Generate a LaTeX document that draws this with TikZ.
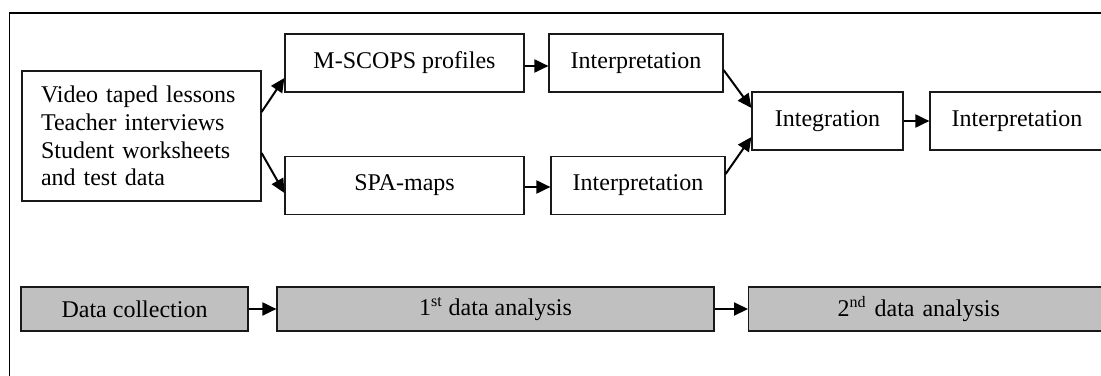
\documentclass[tikz,border=0pt]{standalone}
\usepackage{fontspec}
\setmainfont{Liberation Serif}
\usetikzlibrary{arrows.meta}
\definecolor{phasegray}{HTML}{C0C0C0}
\begin{document}
\begin{tikzpicture}[x=0.5pt, y=-0.5pt,
  every node/.style={font=\fontsize{12pt}{13.8pt}\selectfont, text=black},
  box/.style={draw=black!90, line width=0.6pt, inner sep=0pt, minimum height=29pt},
  phase/.style={box, fill=phasegray, minimum height=22pt},
  flow/.style={line width=1pt, -{Triangle[length=7pt, width=6.5pt]}}]

  % page area and outer frame (frame runs past the right and bottom edges)
  \useasboundingbox (0,0) rectangle (1101,375);
  \clip (0,0) rectangle (1101,375);
  \draw[line width=0.8pt] (9.5,12.7) rectangle (1130,400);

  % data sources
  \node[box, minimum width=119.5pt, minimum height=65pt, text width=100.5pt,
        inner xsep=9.5pt, align=left] (src) at (141.5,136)
    {Video taped lessons\\Teacher interviews\\Student worksheets\\and test data};

  % first analysis branches
  \node[box, minimum width=119.5pt] (msc) at (404.5,63) {M-SCOPS profiles};
  \node[box, minimum width=119.5pt] (spa) at (404.5,185.5) {SPA-maps};
  \node[box, minimum width=87pt] (int1) at (636,63) {Interpretation};
  \node[box, minimum width=87pt] (int2) at (638,185.5) {Interpretation};

  % second analysis
  \node[box, minimum width=75.5pt] (integ) at (827.5,121) {Integration};
  \node[box, minimum width=87pt] (int3) at (1017,121) {Interpretation};

  % phases
  \node[phase, minimum width=113.5pt] (dc) at (134.5,309) {Data collection};
  \node[phase, minimum width=218.5pt] (da1) at (495.5,309) {1\textsuperscript{st} data analysis};
  \node[phase, anchor=west, inner xsep=44.5pt, text width=129.5pt, align=left]
    (da2) at (748,309) {2\textsuperscript{nd} data analysis};

  % connectors
  \draw[flow] ([yshift=12pt]src.east) -- ([yshift=-7.5pt]msc.west);
  \draw[flow] ([yshift=-8.5pt]src.east) -- ([yshift=-3.75pt]spa.west);
  \draw[flow] ([yshift=-1.5pt]msc.east) -- ([yshift=-1.5pt]int1.west);
  \draw[flow] ([yshift=-0.75pt]spa.east) -- ([yshift=-0.75pt]int2.west);
  \draw[flow] ([yshift=-3.5pt]int1.east) -- ([yshift=6.5pt]integ.west);
  \draw[flow] ([yshift=5.75pt]int2.east) -- ([yshift=-8pt]integ.west);
  \draw[flow] (integ.east) -- (int3.west);
  \draw[flow] (dc.east) -- (da1.west);
  \draw[flow] (da1.east) -- (da2.west);
\end{tikzpicture}
\end{document}
